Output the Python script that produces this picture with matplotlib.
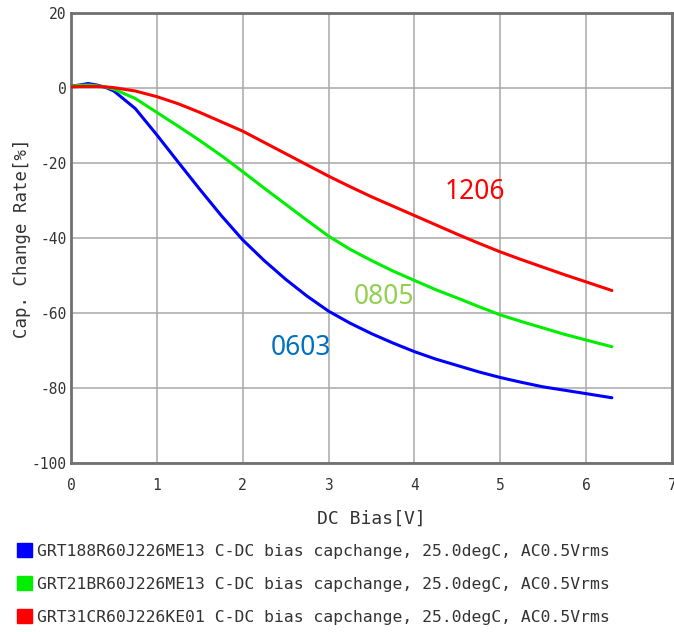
import matplotlib
matplotlib.use("Agg")
import matplotlib.pyplot as plt
from matplotlib.patches import Patch

# DC bias sweep (V) and capacitance change (%) for three case sizes
bias_v = [0, 0.1, 0.2, 0.3, 0.4, 0.5, 0.75, 1.0, 1.25, 1.5, 1.75, 2.0,
          2.25, 2.5, 2.75, 3.0, 3.25, 3.5, 3.75, 4.0, 4.25, 4.5, 4.75,
          5.0, 5.25, 5.5, 5.75, 6.0, 6.3]
cap_0603 = [0.5, 0.8, 1.2, 0.8, 0.2, -0.8, -5.5, -12.5, -19.8, -27.0, -34.0, -40.5,
            -46.0, -51.0, -55.5, -59.5, -62.7, -65.5, -68.0, -70.3, -72.3, -74.0, -75.7,
            -77.2, -78.5, -79.7, -80.6, -81.5, -82.6]
cap_0805 = [0.5, 0.7, 0.8, 0.6, 0.3, -0.3, -2.8, -6.5, -10.2, -14.0, -18.0, -22.3,
            -26.7, -31.0, -35.3, -39.5, -43.0, -46.0, -48.8, -51.3, -53.8, -56.0, -58.3,
            -60.5, -62.3, -64.0, -65.7, -67.2, -69.0]
cap_1206 = [0.3, 0.4, 0.4, 0.4, 0.3, 0.1, -0.8, -2.3, -4.2, -6.5, -9.0, -11.5,
            -14.5, -17.5, -20.5, -23.5, -26.3, -29.0, -31.5, -34.0, -36.5, -39.0, -41.4,
            -43.7, -45.8, -47.8, -49.8, -51.7, -54.0]

series_names = [
    "GRT188R60J226ME13 C-DC bias capchange, 25.0degC, AC0.5Vrms",
    "GRT21BR60J226ME13 C-DC bias capchange, 25.0degC, AC0.5Vrms",
    "GRT31CR60J226KE01 C-DC bias capchange, 25.0degC, AC0.5Vrms",
]
size_labels = ["0603", "0805", "1206"]
label_pos = [(2.68, -69.3), (3.65, -55.7), (4.71, -27.7)]

x_ticks = [0, 1, 2, 3, 4, 5, 6, 7]
y_ticks = [-100, -80, -60, -40, -20, 0, 20]

line_colors = ["#0000ff", "#00ee00", "#ff0000"]
text_colors = ["#0070c0", "#92d050", "#ff0000"]

mono = "DejaVu Sans Mono"

fig = plt.figure(figsize=(6.74, 6.32), dpi=100)
ax = fig.add_axes([0.1053, 0.2674, 0.8917, 0.7120])

for vals, col in zip([cap_0603, cap_0805, cap_1206], line_colors):
    ax.plot(bias_v, vals, color=col, lw=2.2, solid_capstyle="round", zorder=3)

for txt, (tx, ty), col in zip(size_labels, label_pos, text_colors):
    ax.text(tx, ty, txt, color=col, fontsize=19, family="Noto Sans",
            ha="center", va="center", zorder=4)

ax.set_xlim(0, 7)
ax.set_ylim(-100, 20)
ax.set_xticks(x_ticks)
ax.set_yticks(y_ticks)
ax.set_xticklabels([str(v) for v in x_ticks], family=mono, fontsize=10.5, color="#333333")
ax.set_yticklabels([str(v) for v in y_ticks], family=mono, fontsize=10.5, color="#333333")
ax.tick_params(length=0, pad=3)
ax.tick_params(axis="x", pad=11)
ax.grid(True, color="#a8a8a8", lw=1.1)
ax.set_axisbelow(True)
for side in ax.spines.values():
    side.set_color("#707070")
    side.set_linewidth(2.0)

ax.set_xlabel("DC Bias[V]", family=mono, fontsize=13, color="#333333", labelpad=12)
ax.set_ylabel("Cap. Change Rate[%]", family=mono, fontsize=12.5, color="#333333",
              va="center")
ax.yaxis.set_label_coords(-0.081, 0.5)

handles = [Patch(facecolor=c, edgecolor=c) for c in line_colors]
fig.legend(handles, series_names, loc="upper left", bbox_to_anchor=(0.0252, 0.1405),
           frameon=False, prop={"family": mono, "size": 11.8},
           handlelength=0.9, handleheight=0.9, handletextpad=0.3,
           labelspacing=1.07, borderpad=0, borderaxespad=0, labelcolor="#333333")

fig.savefig("out.png", dpi=100)
